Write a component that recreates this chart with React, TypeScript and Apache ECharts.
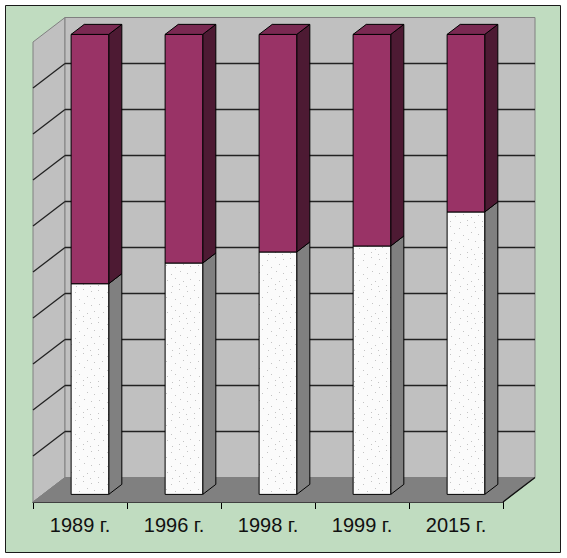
import React, { useEffect, useRef } from "react";
import * as echarts from "echarts";

const categories = ["1989 г.", "1996 г.", "1998 г.", "1999 г.", "2015 г."];
const whiteValues = [45.8, 50.3, 52.7, 54.0, 61.4];
const maroonValues = [54.2, 49.7, 47.3, 46.0, 38.6];
const gridTicks = [10, 20, 30, 40, 50, 60, 70, 80, 90];

const W = 567, H = 558;
const DEPTH_X = 32, DEPTH_Y = -24.5;
const BAR_NEAR = 0.31, BAR_FAR = 0.72, BAR_RATIO = 0.4;

function dottedPattern() {
  const c = document.createElement("canvas");
  c.width = 32; c.height = 32;
  const g = c.getContext("2d")!;
  g.fillStyle = "#fbfbfb";
  g.fillRect(0, 0, 32, 32);
  g.fillStyle = "#c4c4c4";
  [[2, 2], [11, 4], [19, 1], [27, 3], [6, 9], [15, 11], [23, 8], [30, 10], [3, 16], [11, 18], [20, 15], [27, 17], [7, 24], [15, 22], [23, 25], [30, 23], [2, 29], [12, 30], [19, 28], [26, 30]].forEach(([x, y]) => g.fillRect(x, y, 1, 1));
  return c;
}

const poly = (points: number[][], fill: any, stroke = "#000", lineWidth = 1) => ({
  type: "polygon", shape: { points }, style: { fill, stroke, lineWidth }, silent: true,
});
const seg = (a: number[], b: number[], stroke = "#222") => ({
  type: "line", shape: { x1: a[0], y1: a[1], x2: b[0], y2: b[1] }, style: { stroke, lineWidth: 1.3 }, silent: true,
});

export default function App() {
  const ref = useRef<HTMLDivElement>(null);
  useEffect(() => {
    document.body.style.margin = "0";
    const chart = echarts.init(ref.current!, undefined, { renderer: "svg" });
    const pattern = { image: dottedPattern(), repeat: "repeat" };

    const wallsRender = (params: any, api: any) => {
      const n = categories.length;
      const band = api.size([1, 0])[0];
      const first = api.coord([0, 0]);
      const top = api.coord([0, 100]);
      const x0 = first[0] - band / 2;
      const x1 = x0 + band * n;
      const y0 = first[1], yTop = top[1];
      const d = (p: number[]) => [p[0] + DEPTH_X, p[1] + DEPTH_Y];
      const t = api.value(0);
      const a = [x0, api.coord([0, t])[1]];
      const children: any[] = [];
      if (params.dataIndex === 0) {
        children.push(poly([[x0, y0], d([x0, y0]), d([x0, yTop]), [x0, yTop]], "#c0c0c0", "#808080"));
        children.push(poly([d([x0, y0]), d([x1, y0]), d([x1, yTop]), d([x0, yTop])], "#c0c0c0", "#808080"));
        children.push(poly([[x0, y0], [x1, y0], d([x1, y0]), d([x0, y0])], "#808080", "#808080"));
        children.push(seg([x1, y0], d([x1, y0]), "#111"));
      }
      if (t > 0) {
        children.push(seg(a, d(a)));
        children.push(seg(d(a), [d([x1, 0])[0], d(a)[1]]));
      }
      return { type: "group", children };
    };

    const barRender = (front: any, side: string, top: string | null) => (_: any, api: any) => {
      const cat = api.value(0);
      const lo = api.coord([cat, api.value(1)]);
      const hi = api.coord([cat, api.value(2)]);
      const half = (api.size([1, 0])[0] * BAR_RATIO) / 2;
      const nx = DEPTH_X * BAR_NEAR, ny = DEPTH_Y * BAR_NEAR;
      const fx = DEPTH_X * (BAR_FAR - BAR_NEAR), fy = DEPTH_Y * (BAR_FAR - BAR_NEAR);
      const l = lo[0] + nx - half, r = lo[0] + nx + half;
      const yb = lo[1] + ny, yt = hi[1] + ny;
      const children: any[] = [
        poly([[r, yb], [r + fx, yb + fy], [r + fx, yt + fy], [r, yt]], side),
        poly([[l, yb], [r, yb], [r, yt], [l, yt]], front),
      ];
      if (top) children.push(poly([[l, yt], [r, yt], [r + fx, yt + fy], [l + fx, yt + fy]], top));
      return { type: "group", children };
    };

    chart.setOption({
      animation: false,
      backgroundColor: "#fff",
      graphic: [{
        type: "rect", z: -10, silent: true,
        shape: { x: 5.5, y: 5.5, width: 555, height: 547 },
        style: { fill: "#c0dcc0", stroke: "#1a1a1a", lineWidth: 1 },
      }],
      grid: { left: 33, right: 64, top: 42, bottom: 56 },
      xAxis: {
        type: "category", data: categories, boundaryGap: true,
        axisLine: { show: true, lineStyle: { color: "#000", width: 1 } },
        axisTick: { show: true, length: 7, lineStyle: { color: "#000" } },
        axisLabel: { fontFamily: "Liberation Sans", fontSize: 20, color: "#111", margin: 13, interval: 0 },
        splitLine: { show: false },
      },
      yAxis: {
        type: "value", min: 0, max: 100, interval: 10,
        axisLine: { show: false }, axisTick: { show: false }, axisLabel: { show: false }, splitLine: { show: false },
      },
      series: [
        {
          type: "custom", renderItem: wallsRender, silent: true, clip: false,
          data: [0, ...gridTicks].map((t) => [t]), encode: { y: 0 },
        },
        {
          type: "custom", renderItem: barRender(pattern, "#808080", null), silent: true, clip: false,
          data: whiteValues.map((v, i) => [i, 0, v]), encode: { x: 0, y: 2 },
        },
        {
          type: "custom", renderItem: barRender("#993366", "#4d1a33", "#7a2952"), silent: true, clip: false,
          data: maroonValues.map((v, i) => [i, whiteValues[i], whiteValues[i] + v]), encode: { x: 0, y: 2 },
        },
      ],
    });
    return () => chart.dispose();
  }, []);
  return <div ref={ref} style={{ width: W, height: H }} />;
}
